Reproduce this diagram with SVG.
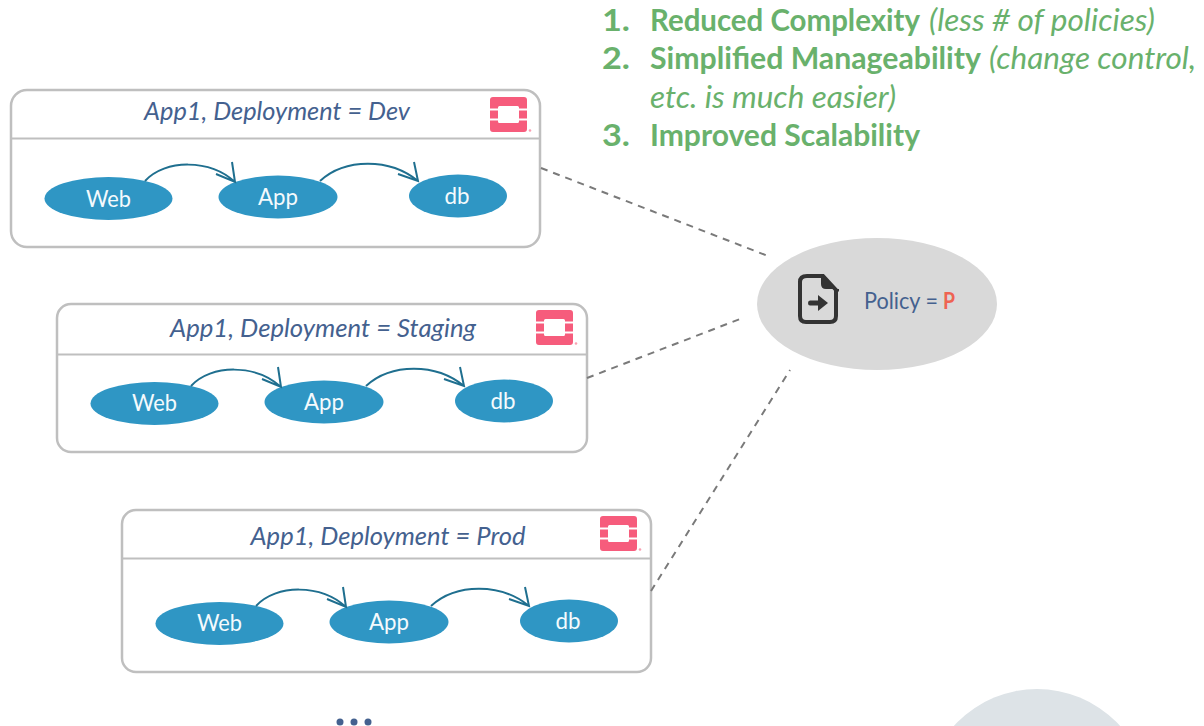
<svg xmlns="http://www.w3.org/2000/svg" width="1204" height="726" viewBox="0 0 1204 726">
<style>
text{font-family:Lato,"Open Sans","Liberation Sans",sans-serif}
.panel{fill:#fff;stroke:#bfbfbf;stroke-width:2.5}
.sep{stroke:#bfbfbf;stroke-width:2;fill:none}
.title{font-size:26px;font-style:italic;fill:#44618f;text-anchor:middle}
.el{fill:#2f96c4}
.lbl{font-size:23px;fill:#f4fafd;text-anchor:middle}
.arc{fill:none;stroke:#1f6f8f;stroke-width:2}
.dash{stroke:#7a7a7a;stroke-width:2;stroke-dasharray:7 6;fill:none}
.g{font-size:30px;fill:#69b16c}
.b{font-weight:700}
.i{font-style:italic}
.logo{fill:#f65c7c}
</style>
<defs>
<g id="logo">
<path class="logo" d="M3 0H34Q37 0 37 3V11.500H29V10.500Q29 9 27.500 9H9.500Q8 9 8 10.500V11.500H0V3Q0 0 3 0ZM0 13.500H8V21.500H0ZM29 13.500H37V21.500H29ZM0 23.500H8V24.500Q8 26 9.500 26H27.500Q29 26 29 24.500V23.500H37V32Q37 35 34 35H3Q0 35 0 32Z"/>
<circle cx="40" cy="33.500" r="1.300" fill="#f9a0b2"/>
</g>
<g id="flows">
<path class="arc" d="M145 181C165 159 210 159 235 182M232 162L235 182L216 174"/>
<path class="arc" d="M320 181C345 158 390 158 418 181M414 162L418 181L398 174"/>
</g>
</defs>
<rect width="1204" height="726" fill="#fff"/>
<g id="background-shape"><circle cx="1037" cy="801" r="112" fill="#dde3e7"/></g>
<g id="benefits">
<text class="g b" x="602" y="31" textLength="28" lengthAdjust="spacingAndGlyphs">1.</text>
<text class="g b" x="650" y="31" textLength="270" lengthAdjust="spacingAndGlyphs">Reduced Complexity</text>
<text class="g i" x="929" y="31" textLength="226" lengthAdjust="spacingAndGlyphs">(less # of policies)</text>
<text class="g b" x="602" y="69" textLength="28" lengthAdjust="spacingAndGlyphs">2.</text>
<text class="g b" x="650" y="69" textLength="331" lengthAdjust="spacingAndGlyphs">Simplified Manageability</text>
<text class="g i" x="989" y="69" textLength="207" lengthAdjust="spacingAndGlyphs">(change control,</text>
<text class="g i" x="650" y="108" textLength="246" lengthAdjust="spacingAndGlyphs">etc. is much easier)</text>
<text class="g b" x="602" y="146" textLength="28" lengthAdjust="spacingAndGlyphs">3.</text>
<text class="g b" x="650" y="146" textLength="270" lengthAdjust="spacingAndGlyphs">Improved Scalability</text>
</g>
<g id="panel-dev">
<rect class="panel" x="11" y="90" width="529" height="157" rx="16"/>
<path class="sep" d="M11 138.500H540"/>
<text class="title" x="277" y="120" textLength="266" lengthAdjust="spacingAndGlyphs">App1, Deployment = Dev</text>
<use href="#logo" x="490" y="97"/>
</g>
<g id="panel-staging">
<rect class="panel" x="57" y="304" width="530" height="148" rx="14"/>
<path class="sep" d="M57 354.500H587"/>
<text class="title" x="323" y="337" textLength="306" lengthAdjust="spacingAndGlyphs">App1, Deployment = Staging</text>
<use href="#logo" x="536" y="310"/>
</g>
<g id="panel-prod">
<rect class="panel" x="122" y="510" width="529" height="162" rx="14"/>
<path class="sep" d="M122 558.500H651"/>
<text class="title" x="388" y="545" textLength="275" lengthAdjust="spacingAndGlyphs">App1, Deployment = Prod</text>
<use href="#logo" x="600" y="516"/>
</g>
<g id="dev-web"><ellipse class="el" cx="108.500" cy="198.500" rx="64" ry="21.500"/><text class="lbl" x="108.500" y="207" textLength="45" lengthAdjust="spacingAndGlyphs">Web</text></g>
<g id="dev-app"><ellipse class="el" cx="278" cy="197" rx="59.500" ry="21.500"/><text class="lbl" x="278" y="205" textLength="40" lengthAdjust="spacingAndGlyphs">App</text></g>
<g id="dev-db"><ellipse class="el" cx="458" cy="196" rx="49" ry="21.500"/><text class="lbl" x="457" y="204" textLength="25" lengthAdjust="spacingAndGlyphs">db</text></g>
<g id="staging-web"><ellipse class="el" cx="154.500" cy="403.500" rx="64" ry="21.500"/><text class="lbl" x="154.500" y="411" textLength="45" lengthAdjust="spacingAndGlyphs">Web</text></g>
<g id="staging-app"><ellipse class="el" cx="324" cy="402" rx="59.500" ry="21.500"/><text class="lbl" x="324" y="410" textLength="40" lengthAdjust="spacingAndGlyphs">App</text></g>
<g id="staging-db"><ellipse class="el" cx="504" cy="401" rx="49" ry="21.500"/><text class="lbl" x="503" y="409" textLength="25" lengthAdjust="spacingAndGlyphs">db</text></g>
<g id="prod-web"><ellipse class="el" cx="219.500" cy="623.500" rx="64" ry="21.500"/><text class="lbl" x="219.500" y="631" textLength="45" lengthAdjust="spacingAndGlyphs">Web</text></g>
<g id="prod-app"><ellipse class="el" cx="389" cy="622" rx="59.500" ry="21.500"/><text class="lbl" x="389" y="630" textLength="40" lengthAdjust="spacingAndGlyphs">App</text></g>
<g id="prod-db"><ellipse class="el" cx="569" cy="621" rx="49" ry="21.500"/><text class="lbl" x="568" y="629" textLength="25" lengthAdjust="spacingAndGlyphs">db</text></g>
<g id="policy">
<ellipse cx="877" cy="304" rx="120" ry="66" fill="#d9d9d9"/>
<path d="M807 276H823L836 290V316Q836 322 830 322H806Q800 322 800 316V282Q800 276 807 276Z" fill="none" stroke="#333" stroke-width="4"/>
<path d="M821 274L839 292V289H826Q821 289 821 284Z" fill="#333"/>
<path d="M810 300.500H818V295L828 303L818 311V305.500H810Q808 305.500 808 303Q808 300.500 810 300.500Z" fill="#333"/>
<text x="864" y="309" font-size="23" fill="#44618f" textLength="74" lengthAdjust="spacingAndGlyphs">Policy =</text>
<text x="943" y="309" font-size="23" font-weight="700" fill="#ee6352" textLength="12" lengthAdjust="spacingAndGlyphs">P</text>
</g>
<g id="connectors">
<path class="dash" d="M541 168L768 256"/>
<path class="dash" d="M587 378L740 319"/>
<path class="dash" d="M651 591L790 370"/>
<use href="#flows"/>
<use href="#flows" x="46" y="205"/>
<use href="#flows" x="111" y="425"/>
</g>
<g id="more" fill="#44618f"><circle cx="340" cy="722" r="3.500"/><circle cx="354" cy="722" r="3.500"/><circle cx="368" cy="722" r="3.500"/></g>
</svg>
